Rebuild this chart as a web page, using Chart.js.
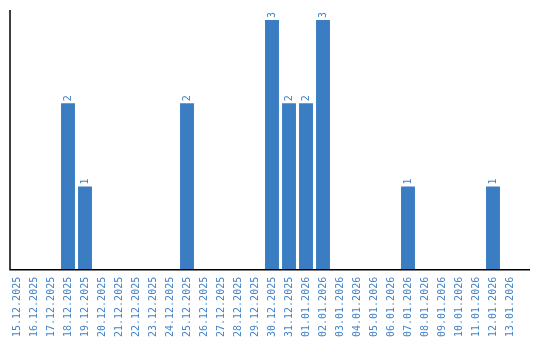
<!DOCTYPE html>
<html>
<head>
<meta charset="utf-8">
<script src="https://cdn.jsdelivr.net/npm/chart.js"></script>
<style>
  html, body { margin: 0; padding: 0; background: #fff; }
  #wrap { width: 540px; height: 340px; }
</style>
</head>
<body>
<div id="wrap"><canvas id="myChart"></canvas></div>
<script>
const days = [
  '15.12.2025', '16.12.2025', '17.12.2025', '18.12.2025', '19.12.2025',
  '20.12.2025', '21.12.2025', '22.12.2025', '23.12.2025', '24.12.2025',
  '25.12.2025', '26.12.2025', '27.12.2025', '28.12.2025', '29.12.2025',
  '30.12.2025', '31.12.2025', '01.01.2026', '02.01.2026', '03.01.2026',
  '04.01.2026', '05.01.2026', '06.01.2026', '07.01.2026', '08.01.2026',
  '09.01.2026', '10.01.2026', '11.01.2026', '12.01.2026', '13.01.2026'
];
const counts = [
  0, 0, 0, 2, 1,
  0, 0, 0, 0, 0,
  2, 0, 0, 0, 0,
  3, 2, 2, 3, 0,
  0, 0, 0, 1, 0,
  0, 0, 0, 1, 0
];

const blue = '#3b7dc3';
const textBlue = '#4383c6';

// values written sideways above each bar
const barLabels = {
  id: 'barLabels',
  afterDatasetsDraw(chart) {
    const c = chart.ctx;
    const meta = chart.getDatasetMeta(0);
    c.save();
    c.fillStyle = textBlue;
    c.font = '10px "DejaVu Sans Mono"';
    c.textAlign = 'left';
    c.textBaseline = 'middle';
    meta.data.forEach((bar, i) => {
      const v = counts[i];
      if (!v) return;
      c.save();
      c.translate(bar.x, bar.y - 2);
      c.rotate(-Math.PI / 2);
      c.fillText(String(v), 0, 0);
      c.restore();
    });
    c.restore();
  }
};

// axis lines, a bit longer than the plot area
const axisLines = {
  id: 'axisLines',
  afterDraw(chart) {
    const a = chart.chartArea;
    const c = chart.ctx;
    c.save();
    c.strokeStyle = '#000';
    c.lineWidth = 1.5;
    c.beginPath();
    c.moveTo(a.left + 1.5, a.top - 10);
    c.lineTo(a.left + 1.5, a.bottom);
    c.lineTo(a.right + 11.5, a.bottom);
    c.stroke();
    c.restore();
  }
};

new Chart(document.getElementById('myChart'), {
  type: 'bar',
  data: {
    labels: days,
    datasets: [{
      data: counts,
      backgroundColor: blue,
      borderWidth: 0,
      barPercentage: 1,
      categoryPercentage: 0.82
    }]
  },
  options: {
    responsive: true,
    maintainAspectRatio: false,
    animation: false,
    layout: { padding: { left: 8.5, right: 21.5, top: 20, bottom: -4 } },
    plugins: {
      legend: { display: false },
      tooltip: { enabled: false }
    },
    scales: {
      x: {
        grid: { display: false, drawTicks: false },
        border: { display: false },
        ticks: {
          color: textBlue,
          font: { family: 'DejaVu Sans Mono', size: 10 },
          maxRotation: 90,
          minRotation: 90,
          autoSkip: false,
          padding: 7
        }
      },
      y: {
        display: false,
        min: 0,
        max: 3
      }
    }
  },
  plugins: [barLabels, axisLines]
});
</script>
</body>
</html>
